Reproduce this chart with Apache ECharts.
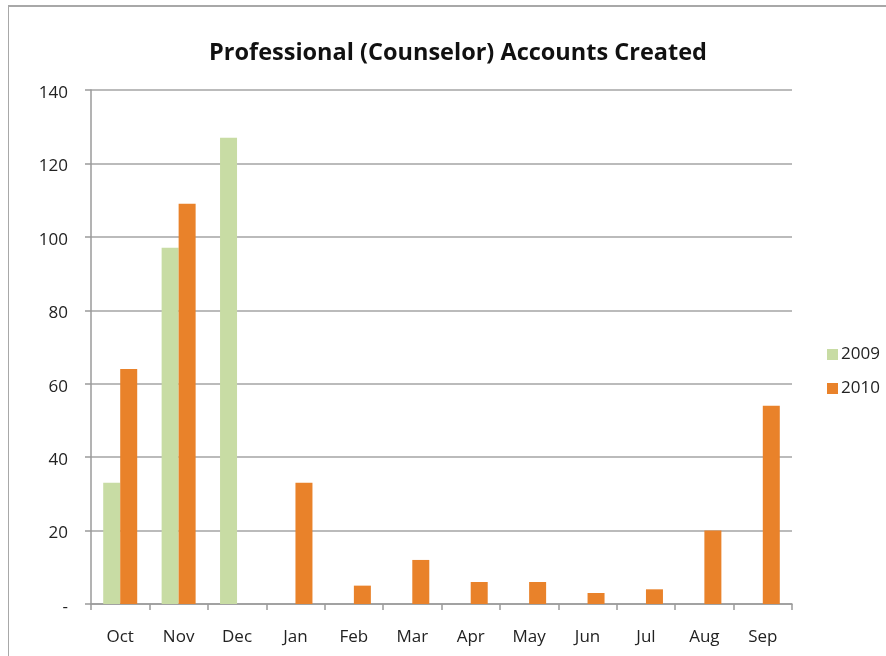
<!DOCTYPE html>
<html>
<head>
<meta charset="utf-8">
<script src="https://cdn.jsdelivr.net/npm/echarts@6/dist/echarts.min.js"></script>
<style>
  html, body { margin: 0; padding: 0; background: #fff; }
  #frame {
    position: absolute; left: 8px; top: 5px; width: 900px; height: 700px;
    border-left: 1px solid #a8a8a8; border-top: 2px solid #a8a8a8;
  }
  #chart { position: absolute; left: 0; top: 0; width: 886px; height: 656px; }
</style>
</head>
<body>
<div id="frame"></div>
<div id="chart"></div>
<script>
// months (fiscal year Oct - Sep)
var months = ['Oct', 'Nov', 'Dec', 'Jan', 'Feb', 'Mar', 'Apr', 'May', 'Jun', 'Jul', 'Aug', 'Sep']
var seriesNames = ['2009', '2010']
var values2009 = [33, 97, 127, null, null, null, null, null, null, null, null, null]
var values2010 = [64, 109, null, 33, 5, 12, 6, 6, 3, 4, 20, 54]
var yTicks = [0, 20, 40, 60, 80, 100, 120, 140]

var chart = echarts.init(document.getElementById('chart'))
var font = '"Open Sans", "Noto Sans", sans-serif'

var option = {
  animation: false,
  color: ['#c8dca4', '#e9822a'],
  title: {
    text: 'Professional (Counselor) Accounts Created',
    left: 453,
    textAlign: 'center',
    top: 36,
    textStyle: {
      fontFamily: font,
      fontWeight: 'bold',
      fontSize: 23.5,
      color: '#111',
      letterSpacing: -1
    }
  },
  legend: {
    orient: 'vertical',
    left: 822,
    top: 341,
    itemWidth: 11,
    itemHeight: 11,
    itemGap: 17,
    icon: 'rect',
    data: seriesNames,
    textStyle: { fontFamily: font, fontSize: 17, color: '#222', padding: [0, 0, 0, -2] }
  },
  grid: { left: 91, right: 94, top: 90, bottom: 52, containLabel: false },
  xAxis: {
    type: 'category',
    data: months,
    axisLine: { lineStyle: { color: '#9a9a9a', width: 1.5 } },
    axisTick: { show: true, length: 6, lineStyle: { color: '#9a9a9a', width: 1.5 } },
    axisLabel: { fontFamily: font, fontSize: 17, color: '#222', margin: 25 }
  },
  yAxis: {
    type: 'value',
    min: 0,
    max: 140,
    interval: 20,
    axisLine: { show: true, lineStyle: { color: '#9a9a9a', width: 1.5 } },
    axisTick: { show: true, length: 6, lineStyle: { color: '#9a9a9a', width: 1.5 } },
    splitLine: { lineStyle: { color: '#a4a4a4', width: 1.5 } },
    axisLabel: {
      margin: 23,
      formatter: function (v) { return '{t|' + (v === yTicks[0] ? '-' : String(v)) + '}' },
      rich: {
        t: { fontFamily: font, fontSize: 17, color: '#222', padding: [6, 0, 0, 0] }
      }
    }
  },
  series: [
    {
      name: seriesNames[0],
      type: 'bar',
      data: values2009,
      barWidth: 17,
      barGap: '0%'
    },
    {
      name: seriesNames[1],
      type: 'bar',
      data: values2010,
      barWidth: 17,
      barGap: '0%'
    }
  ]
}
chart.setOption(option)
</script>
</body>
</html>
